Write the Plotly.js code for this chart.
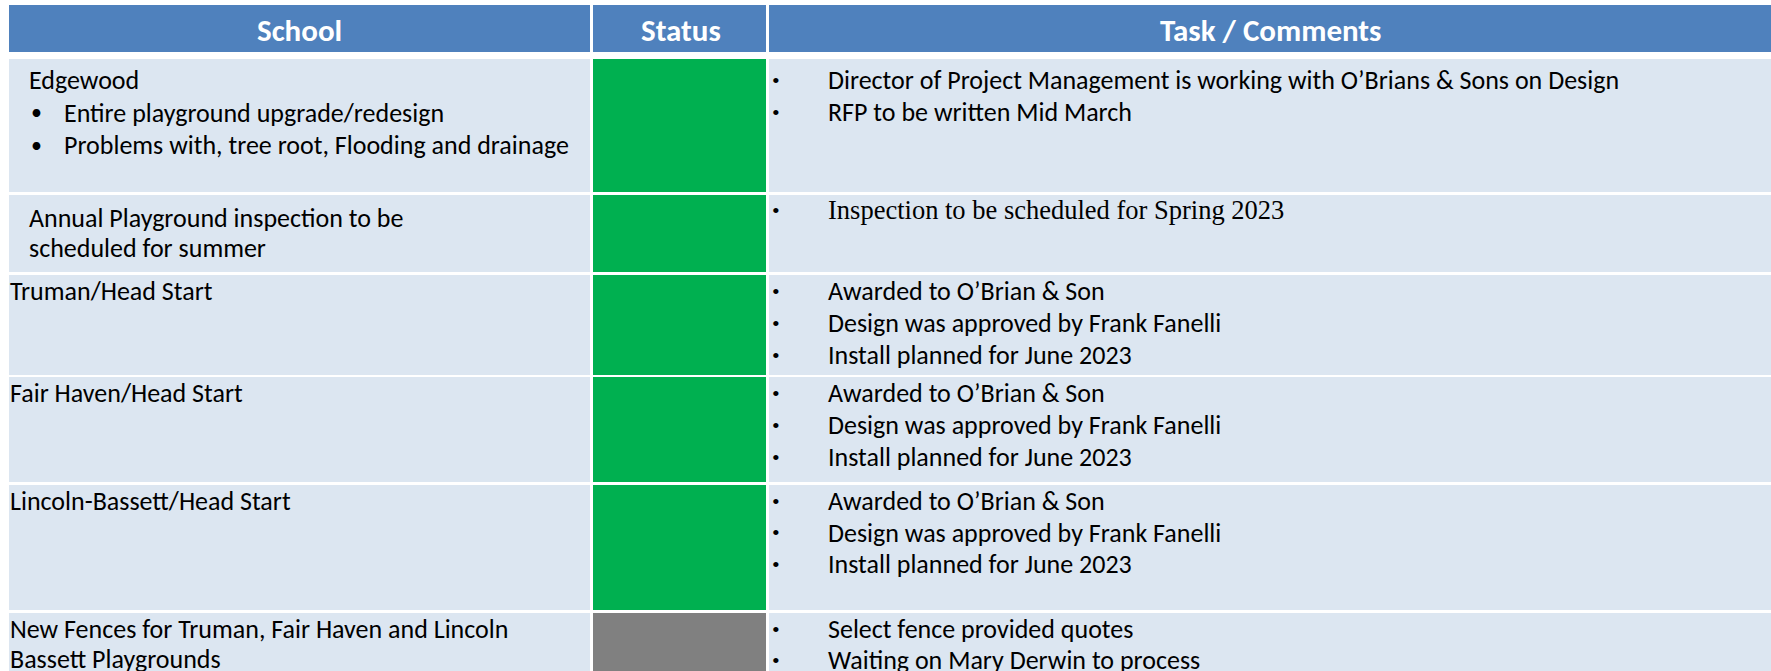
<!DOCTYPE html>
<html>
<head>
<meta charset="utf-8">
<script src="https://cdn.plot.ly/plotly-3.0.1.min.js"></script>
<style>html,body{margin:0;padding:0;background:#fff;}#chart{width:1771px;height:671px;}</style>
</head>
<body>
<div id="chart"></div>
<script>
// ---------- DATA ----------
const headers = ["School", "Status", "Task / Comments"];
const schoolNames = [
  ["Edgewood"],
  ["Annual Playground inspection to be", "scheduled for summer"],
  ["Truman/Head Start"],
  ["Fair Haven/Head Start"],
  ["Lincoln-Bassett/Head Start"],
  ["New Fences for Truman, Fair Haven and Lincoln", "Bassett Playgrounds"]
];
const schoolBullets = [
  ["Entire playground upgrade/redesign", "Problems with, tree root, Flooding and drainage"],
  [], [], [], [], []
];
const statuses = ["Green", "Green", "Green", "Green", "Green", "Gray"];
const comments = [
  ["Director of Project Management is working with O\u2019Brians & Sons on Design", "RFP to be written Mid March"],
  ["Inspection to be scheduled for Spring 2023"],
  ["Awarded to O\u2019Brian & Son", "Design was approved by Frank Fanelli", "Install planned for June 2023"],
  ["Awarded to O\u2019Brian & Son", "Design was approved by Frank Fanelli", "Install planned for June 2023"],
  ["Awarded to O\u2019Brian & Son", "Design was approved by Frank Fanelli", "Install planned for June 2023"],
  ["Select fence provided quotes", "Waiting on Mary Derwin to process"]
];

// ---------- GEOMETRY / STYLE ----------
const W = 1771, H = 671;
const cols = [[9, 590], [593, 766], [769, 1775]];
const headerCenters = [299, 681, 1270];
const headerBand = [5, 52];
const rowBands = [[59, 192], [195, 272], [275, 375], [377, 482], [485, 610], [613, 690]];
const schoolIndent = [28, 28, 9, 9, 9, 9];
const schoolFirstY = [80, 218, 291, 393, 501, 629];
const schoolStep = [32.5, 30, 31, 31, 31, 30];
const commentFirstY = [80, 210, 291, 393, 501, 629];
const commentStep = [32, 32, 32, 32, 31.5, 31];
const commentSerif = [false, true, false, false, false, false];
const statusColor = {Green: "#00B050", Gray: "#808080"};
const headerColor = "#4F81BD";
const cellColor = "#DCE6F1";
const bodyFont = "Carlito, Calibri, Lato, sans-serif";
const bodySize = 26;

const shapes = [];
const annotations = [];
function rect(x0, x1, y0, y1, color) {
  shapes.push({type: "rect", xref: "x", yref: "y", x0, x1, y0, y1,
    fillcolor: color, line: {width: 0}, layer: "below"});
}
function label(x, y, text, opts) {
  annotations.push(Object.assign({xref: "x", yref: "y", x, y, text, showarrow: false,
    xanchor: "left", yanchor: "middle",
    font: {family: bodyFont, size: bodySize, color: "#000"}}, opts || {}));
}

// header
headers.forEach((h, i) => {
  rect(cols[i][0], cols[i][1], headerBand[0], headerBand[1], headerColor);
  label(headerCenters[i], (headerBand[0] + headerBand[1]) / 2 + 1, "<b>" + h + "</b>",
    {xanchor: "center", font: {family: bodyFont, size: 31, color: "#fff"}});
});

// body rows
statuses.forEach((s, r) => {
  const [y0, y1] = rowBands[r];
  rect(cols[0][0], cols[0][1], y0, y1, cellColor);
  rect(cols[1][0], cols[1][1], y0, y1, statusColor[s]);
  rect(cols[2][0], cols[2][1], y0, y1, cellColor);

  // school column
  let line = 0;
  schoolNames[r].forEach(t => {
    label(schoolIndent[r] - 1, schoolFirstY[r] + line * schoolStep[r], t);
    line++;
  });
  schoolBullets[r].forEach(t => {
    const y = schoolFirstY[r] + line * schoolStep[r];
    label(29, y, "\u2022", {font: {family: bodyFont, size: 22, color: "#000"}});
    label(62, y, t);
    line++;
  });

  // comments column
  comments[r].forEach((t, k) => {
    const y = commentFirstY[r] + k * commentStep[r];
    label(770, y, "\u2022", {font: {family: "Liberation Serif, serif", size: 22, color: "#000"}});
    label(826, y, t, commentSerif[r] ?
      {font: {family: "Liberation Serif, Times New Roman, serif", size: 26.5, color: "#000"}} : {});
  });
});

const layout = {
  width: W, height: H,
  margin: {l: 0, r: 0, t: 0, b: 0},
  paper_bgcolor: "#fff", plot_bgcolor: "#fff",
  xaxis: {range: [0, W], visible: false, fixedrange: true},
  yaxis: {range: [H, 0], visible: false, fixedrange: true},
  showlegend: false,
  shapes, annotations
};
Plotly.newPlot("chart", [{type: "scatter", x: [], y: [], mode: "markers", hoverinfo: "skip"}], layout,
  {staticPlot: true, displayModeBar: false});
</script>
</body>
</html>
